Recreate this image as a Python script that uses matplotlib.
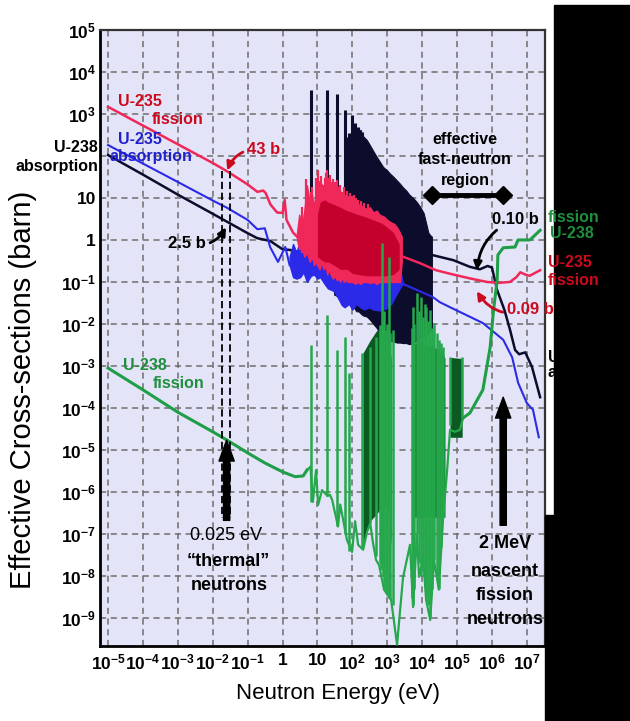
import matplotlib.pyplot as plt
from matplotlib.patches import Rectangle

plt.rcParams['font.family'] = ['Liberation Sans', 'DejaVu Sans']
plt.rcParams['mathtext.fontset'] = 'custom'
plt.rcParams['mathtext.rm'] = 'Liberation Sans'
plt.rcParams['mathtext.bf'] = 'Liberation Sans:bold'
plt.rcParams['mathtext.default'] = 'bf'

# Values. Energies in eV, cross-sections in barn.

# U-235 fission
u235f_low_E = [1e-5, 1e-4, 1e-3, 1e-2, 0.026, 0.1, 0.19, 0.28, 0.33, 0.45, 0.7, 1.0, 1.15, 1.3, 2.0, 2.6]
u235f_low_s = [1480, 530, 190, 68, 43, 21, 14, 15, 13, 7, 4.5, 4.4, 9, 3.0, 1.5, 1.2]
u235f_res_E = [2.6, 3.0, 3.6, 4.2, 5.0, 6.0, 7.0, 8.0, 9.0, 10, 11.5, 13, 15, 17, 19, 21, 24, 28, 32, 36, 40, 45,
               50, 57, 65, 75, 85, 100, 120, 140, 170, 200, 260, 320, 400, 500, 600, 800, 1000, 1300, 1600, 1900,
               2300, 2600]
u235f_res_hi = [1.5, 4, 2, 5, 20, 8, 12, 6, 15, 30, 15, 22, 10, 20, 30, 18, 24, 12, 18, 20, 10, 15,
                9, 12, 8, 11, 9, 8, 9, 7, 7, 6, 5.5, 6, 4.5, 5, 4, 3.6, 3, 2.6, 2.4, 2,
                1.5, 1.2]
u235f_res_lo = [1.0, 0.6, 0.7, 0.4, 0.5, 0.3, 0.4, 0.25, 0.3, 0.25, 0.2, 0.3, 0.2, 0.25, 0.15, 0.2, 0.15, 0.12,
                0.14, 0.11, 0.12, 0.1, 0.13, 0.1, 0.11, 0.1, 0.1, 0.1, 0.09, 0.1, 0.09, 0.1, 0.1, 0.095, 0.1,
                0.09, 0.1, 0.1, 0.1, 0.1, 0.1, 0.1, 0.1, 0.3]
u235f_spike_E = [3.6, 4.8, 6.4, 7.1, 8.8, 10.2, 11.7, 12.4, 14, 16.1, 18.1, 19.3, 21.1, 23.4, 25.6, 27.8, 32,
                 35.2, 39.4, 44.6, 49.4, 56.5, 63, 71, 83, 95, 110, 128, 150, 180, 220, 280]
u235f_spike_top = [6, 28, 14, 18, 30, 47, 25, 34, 20, 30, 40, 47, 30, 36, 22, 28, 24, 27, 18, 20, 14, 18, 12,
                   15, 13, 11, 12, 10, 9, 8.5, 7.5, 7]
u235f_core_E = [10, 12, 16, 20, 30, 45, 70, 100, 150, 250, 400, 700, 1000, 1500, 2200]
u235f_core_hi = [4, 8, 9, 8, 7, 6, 5, 4.5, 4, 3.5, 3, 2.5, 2, 1.5, 0.8]
u235f_core_lo = [0.4, 0.35, 0.3, 0.3, 0.25, 0.2, 0.2, 0.16, 0.15, 0.14, 0.14, 0.14, 0.14, 0.15, 0.2]
u235f_fast_E = [2.8e3, 8.7e3, 2.5e4, 7.8e4, 2.5e5, 7.2e5, 1.5e6, 3.3e6, 5e6, 6.5e6, 9e6, 1.2e7, 2.4e7]
u235f_fast_s = [0.40, 0.28, 0.19, 0.15, 0.12, 0.10, 0.095, 0.10, 0.13, 0.17, 0.15, 0.14, 0.19]

# U-235 absorption
u235a_low_E = [1e-5, 1e-4, 1e-3, 1e-2, 0.026, 0.1, 0.19, 0.31, 0.44, 0.74, 1.0, 1.2, 1.6]
u235a_low_s = [182, 66, 24, 8.7, 5.8, 3.0, 1.8, 1.9, 0.68, 0.3, 0.5, 0.68, 0.25]
u235a_res_E = [1.6, 2, 2.5, 3.2, 4, 5, 6.5, 8, 10, 12, 16, 20, 25, 30, 40, 50, 60, 80, 100, 130, 170, 220,
               300, 400, 600, 900, 1300, 1800, 2500, 2800]
u235a_res_hi = [0.4, 0.8, 0.5, 1.0, 0.5, 0.9, 2, 0.6, 1.2, 0.7, 1.5, 1.0, 1.2, 0.8, 1.0, 0.7, 0.8, 0.6, 0.7,
                0.5, 0.5, 0.45, 0.4, 0.35, 0.3, 0.3, 0.25, 0.2, 0.15, 0.09]
u235a_res_lo = [0.25, 0.13, 0.12, 0.13, 0.17, 0.1, 0.14, 0.15, 0.12, 0.13, 0.09, 0.07, 0.065, 0.06, 0.04,
                0.028, 0.025, 0.03, 0.022, 0.03, 0.025, 0.022, 0.025, 0.022, 0.021, 0.023, 0.03, 0.05, 0.08, 0.09]
u235a_fast_E = [2.8e3, 2e4, 3.2e4, 6.3e4, 5.5e5, 2.1e6, 3.8e6, 5.6e6, 1e7, 1.5e7, 2.2e7]
u235a_fast_s = [0.09, 0.044, 0.033, 0.025, 0.0105, 0.0042, 0.0016, 4e-4, 1.3e-4, 9e-5, 2e-5]

# U-238 absorption
u238a_low_E = [1e-5, 1e-4, 1e-3, 1e-2, 0.026, 0.1, 0.19, 0.44, 1.0, 1.6, 3.2, 5.0, 6.0, 10, 20, 30]
u238a_low_s = [105, 36, 12, 4.2, 2.7, 1.45, 1.1, 0.95, 0.6, 0.58, 0.5, 0.35, 0.3, 0.3, 0.2, 0.1]
u238a_spike_E = [6.6, 18.6, 36.3, 61.7, 70, 81, 98, 120, 145, 166, 190]
u238a_spike_top = [3700, 3700, 3000, 1250, 280, 350, 950, 610, 500, 420, 380]
u238a_spike_bot = [0.3, 0.2, 0.1, 0.05, 0.05, 0.05, 0.05, 0.04, 0.03, 0.03, 0.03]
u238a_res_E = [30, 40, 50, 60, 75, 90, 110, 130, 150, 170, 200, 260, 320, 400, 500, 620, 760, 1000, 1200,
               1500, 1900, 2300, 2800, 3500, 4300, 5500, 7000, 8700, 11000, 13000, 15000, 17000, 19000]
u238a_res_hi = [3, 8, 5, 20, 150, 60, 200, 150, 300, 420, 300, 240, 180, 130, 95, 72, 55, 45, 38,
                32, 26, 22, 18, 15, 12, 10, 8, 6.2, 4.4, 2.5, 1.5, 1.3, 1.2]
u238a_res_lo = [0.05, 0.045, 0.04, 0.035, 0.03, 0.03, 0.025, 0.02, 0.02, 0.018, 0.016, 0.015, 0.0126, 0.01,
                0.008, 0.006, 0.005, 0.004, 0.004, 0.0038, 0.0036, 0.0036, 0.0035, 0.0035, 0.0033, 0.0035,
                0.004, 0.0045, 0.005, 0.0055, 0.006, 0.0068, 0.0072]
u238a_fast_E = [1.9e4, 7.8e4, 2.3e5, 4.5e5, 7.5e5, 1e6, 1.4e6, 2.3e6, 3.3e6, 4.6e6, 6e6, 9e6, 1.4e7, 2.4e7]
u238a_fast_s = [0.44, 0.33, 0.23, 0.2, 0.24, 0.22, 0.065, 0.021, 0.0072, 0.0024, 0.0019, 0.0021, 9.5e-4, 1.8e-4]

# U-238 fission
u238f_low_E = [1e-5, 1e-4, 1e-3, 1e-2, 0.026, 0.1, 0.31, 1.0, 2.3, 3.9, 5.0]
u238f_low_s = [8.9e-4, 2.7e-4, 7.9e-5, 2.7e-5, 1.7e-5, 8.5e-6, 4.9e-6, 3.0e-6, 2.3e-6, 2.4e-6, 3.3e-6]
u238f_base_E = [5.0, 6.3, 7.4, 9.1, 10.5, 13.5, 19.5, 22.9, 26.3, 38.9, 45, 70, 98, 120, 146, 204, 263, 324,
                392, 478, 586, 810, 1290, 1910, 2820, 4490, 5500, 7080, 8140, 10700, 13000, 17000, 21900,
                30000, 40000, 52000, 63000, 87000, 120000, 150000]
u238f_base_s = [3.3e-6, 4e-6, 5.8e-7, 3.3e-6, 4.9e-7, 1.1e-6, 8e-7, 8.5e-7, 6.5e-7, 1.5e-7, 5e-7, 7.2e-8,
                3.7e-8, 2e-7, 5.5e-8, 4.2e-8, 1.1e-7, 1.8e-7, 6e-8, 2.4e-8, 1.8e-8, 4.7e-9, 2.7e-9, 2.3e-10,
                8.9e-9, 5.5e-8, 1.8e-9, 1e-7, 9.5e-9, 2.5e-8, 2.7e-9, 8.9e-10, 2.4e-8, 4.7e-9, 2.5e-7,
                3.3e-6, 3e-5, 2.7e-5, 3e-5, 5.8e-5]
u238f_spike_E = [6.6, 18.6, 36.3, 61.7, 80, 191, 324, 478, 600, 660, 708, 750, 810, 900, 1000, 1120, 1200,
                 1480, 5200, 5500, 6000, 7080, 8000, 9300, 10500, 12000, 13000, 15000, 17000, 19000, 22000,
                 26000, 30000, 35000, 40000, 63000, 138000]
u238f_spike_top = [3.2e-3, 0.016, 2.4e-3, 4.9e-3, 6.8e-4, 2.0e-3, 2.8e-3, 4.9e-3, 0.0095, 6e-3, 0.85, 8e-3,
                   0.02, 7e-3, 0.01, 0.40, 6e-3, 7.2e-3, 8e-3, 0.025, 0.01, 0.055, 0.02, 0.044, 0.015, 0.03,
                   0.025, 0.012, 0.021, 0.008, 0.0105, 6e-3, 4.2e-3, 3.5e-3, 2.8e-3, 1.6e-3, 1.6e-3]
u238f_spike_bot = [5.8e-7, 8e-7, 1.5e-7, 1e-7, 4e-8, 5e-8, 1.8e-7, 3e-8, 2e-8, 1.5e-8, 1.4e-8, 1e-8, 5e-9,
                   4e-9, 3.5e-9, 3e-9, 2.8e-9, 2e-9, 3e-9, 2e-9, 5e-9, 1e-7, 2e-8, 1e-8, 2e-8, 6e-9, 3e-9,
                   2e-9, 1e-9, 5e-9, 2.4e-8, 1e-8, 5e-9, 5e-8, 2.5e-7, 4e-5, 5.8e-5]
u238f_band1_E = [200, 320, 500, 800, 1100, 1300]
u238f_band1_hi = [2e-3, 4e-3, 7e-3, 7e-3, 4e-3, 1.5e-3]
u238f_band1_lo = [5e-8, 2e-7, 3e-7, 5e-7, 3e-7, 5e-8]
u238f_band2_E = [5000, 8000, 12000, 18000, 27000, 40000, 45000]
u238f_band2_hi = [3e-3, 4e-3, 3.2e-3, 3e-3, 2.5e-3, 2e-3, 1.5e-3]
u238f_band2_lo = [2.5e-7, 2.5e-7, 2.5e-7, 2.5e-7, 2.5e-7, 2.5e-7, 2.5e-7]
u238f_band3_E = [6.3e4, 1.4e5]
u238f_band3_hi = [1.6e-3, 1.5e-3]
u238f_band3_lo = [2e-5, 2e-5]
u238f_fast_E = [1.5e5, 2.34e5, 5.5e5, 8.9e5, 1.1e6, 1.41e6, 1.48e6, 2.1e6, 4.6e6, 5.6e6, 1.23e7, 2.4e7]
u238f_fast_s = [5.8e-5, 7.6e-5, 2.7e-4, 2.8e-3, 0.02, 0.11, 0.44, 0.65, 0.68, 1.0, 1.0, 1.7]

# marked points
thermal_E = 0.025
thermal_dash_E = [0.0186, 0.0316]
fast_E = 2.1e6
region_E = [1.9e4, 2.1e6]

x_ticks = [1e-5, 1e-4, 1e-3, 1e-2, 1e-1, 1, 10, 1e2, 1e3, 1e4, 1e5, 1e6, 1e7]
x_labels = ['$10^{-5}$', '$10^{-4}$', '$10^{-3}$', '$10^{-2}$', '$10^{-1}$', '1', '10',
            '$10^{2}$', '$10^{3}$', '$10^{4}$', '$10^{5}$', '$10^{6}$', '$10^{7}$']
y_ticks = [1e5, 1e4, 1e3, 1e2, 10, 1, 1e-1, 1e-2, 1e-3, 1e-4, 1e-5, 1e-6, 1e-7, 1e-8, 1e-9]
y_labels = ['$10^{5}$', '$10^{4}$', '$10^{3}$', '', '10', '1', '$10^{-1}$', '$10^{-2}$', '$10^{-3}$',
            '$10^{-4}$', '$10^{-5}$', '$10^{-6}$', '$10^{-7}$', '$10^{-8}$', '$10^{-9}$']

RED = '#f0285a'
RED_DARK = '#c4002c'
RED_TXT = '#cc0a1e'
BLUE = '#2a2ae8'
NAVY = '#0c0c2c'
GREEN = '#1e9e46'
GREEN_MID = '#25a84b'
GREEN_DK = '#0a5a22'
GREEN_TXT = '#1f8f3e'


def fpx(x, y):
    # position given in pixels of the 630x721 picture, from top-left
    return x / 630, 1 - y / 721


fig = plt.figure(figsize=(6.3, 7.21), dpi=100)
ax = fig.add_axes([100 / 630, 1 - 646 / 721, 445 / 630, 616 / 721])
ax.set_facecolor('#e4e4f8')
ax.set_xscale('log')
ax.set_yscale('log')
ax.set_xlim(10 ** -5.23, 10 ** 7.52)
ax.set_ylim(10 ** -9.67, 10 ** 5)

# U-238 absorption (black)
ax.fill_between(u238a_res_E, u238a_res_lo, u238a_res_hi, color=NAVY, lw=0.8, zorder=2)
ax.vlines(u238a_spike_E, u238a_spike_bot, u238a_spike_top, color=NAVY, lw=2.2, zorder=2)
ax.plot(u238a_low_E, u238a_low_s, color=NAVY, lw=1.8, zorder=2.2)
ax.plot(u238a_fast_E, u238a_fast_s, color=NAVY, lw=1.8, zorder=2.2)

# U-235 absorption (blue)
ax.fill_between(u235a_res_E, u235a_res_lo, u235a_res_hi, color=BLUE, lw=1, zorder=3)
ax.plot(u235a_low_E, u235a_low_s, color=BLUE, lw=1.5, zorder=3)
ax.plot(u235a_fast_E, u235a_fast_s, color=BLUE, lw=1.5, zorder=3)

# U-235 fission (red)
ax.fill_between(u235f_res_E, u235f_res_lo, u235f_res_hi, color=RED, lw=1, zorder=4)
ax.vlines(u235f_spike_E, 0.5, u235f_spike_top, color=RED, lw=1.6, zorder=4)
ax.fill_between(u235f_core_E, u235f_core_lo, u235f_core_hi, color=RED_DARK, lw=0, zorder=4.1)
ax.plot(u235f_low_E, u235f_low_s, color=RED, lw=1.8, zorder=4)
ax.plot(u235f_fast_E, u235f_fast_s, color=RED, lw=1.8, zorder=4)

# U-238 fission (green)
for bE, bl, bh in [(u238f_band1_E, u238f_band1_lo, u238f_band1_hi),
                   (u238f_band2_E, u238f_band2_lo, u238f_band2_hi),
                   (u238f_band3_E, u238f_band3_lo, u238f_band3_hi)]:
    ax.fill_between(bE, bl, bh, color=GREEN_DK, lw=0, zorder=5)
ax.plot(u238f_base_E, u238f_base_s, color=GREEN_MID, lw=1.6, zorder=5.1)
ax.vlines(u238f_spike_E, u238f_spike_bot, u238f_spike_top, color=GREEN_MID, lw=1.8, zorder=5.1)
ax.plot(u238f_low_E, u238f_low_s, color=GREEN, lw=2.2, zorder=5.2)
ax.plot(u238f_fast_E, u238f_fast_s, color=GREEN, lw=2.2, zorder=5.2)

# grid, ticks, frame
ax.grid(True, which='major', ls=(0, (4, 3)), color='#6d6d6d', lw=1.1, zorder=1)
ax.set_axisbelow(True)
ax.set_xticks(x_ticks)
ax.set_xticklabels(x_labels)
ax.set_yticks(y_ticks)
ax.set_yticklabels(y_labels)
ax.minorticks_off()
ax.tick_params(length=0, labelsize=12.5, pad=5)
ax.tick_params(axis='y', pad=3)
for lbl in ax.get_xticklabels() + ax.get_yticklabels():
    lbl.set_fontweight('bold')
for side in ['left', 'bottom']:
    ax.spines[side].set_linewidth(2)
    ax.spines[side].set_color('black')
for side in ['top', 'right']:
    ax.spines[side].set_linewidth(1.6)
    ax.spines[side].set_color('#333333')

# thermal marker
for e in thermal_dash_E:
    ax.plot([e, e], [45, 2.4e-7], color='black', lw=1.3, ls=(0, (4, 2)), zorder=6)
big_arrow = dict(facecolor='black', edgecolor='black', width=4.5, headwidth=11, headlength=15, shrink=0)
ax.annotate('', xy=(thermal_E, 1.7e-5), xytext=(thermal_E, 2.1e-7), arrowprops=big_arrow, zorder=8)
ax.annotate('', xy=(fast_E, 1.8e-4), xytext=(fast_E, 1.6e-7), arrowprops=big_arrow, zorder=8)

# fast region bar
ax.plot(region_E, [11.7, 11.7], color='black', lw=3.5, marker='D', ms=9, zorder=7)

# curved pointers
def pointer(txt, xy, pos, color, rad, ha='left'):
    ax.annotate(txt, xy=xy, xycoords='data', xytext=fpx(*pos), textcoords='figure fraction',
                color=color, fontsize=12, fontweight='bold', ha=ha, va='center', zorder=8,
                arrowprops=dict(arrowstyle='-|>', color=color, lw=2, mutation_scale=12,
                                connectionstyle=f'arc3,rad={rad}', shrinkA=1, shrinkB=0))


pointer('43 b', (0.026, 45), (247, 150), RED_TXT, 0.4)
pointer('2.5 b', (0.024, 2.0), (206, 243), 'black', 0.4, ha='right')
pointer('0.10 b', (3.7e5, 0.19), (492, 219), 'black', 0.3)

txt_kw = dict(fontweight='bold', va='center')
fig.text(*fpx(118, 102), 'U-235', color=RED_TXT, fontsize=11.5, **txt_kw)
fig.text(*fpx(152, 120), 'fission', color=RED_TXT, fontsize=11.5, **txt_kw)
fig.text(*fpx(118, 140), 'U-235', color='#2020cc', fontsize=11.5, **txt_kw)
fig.text(*fpx(110, 157), 'absorption', color='#2020cc', fontsize=11.5, **txt_kw)
fig.text(*fpx(98, 148), 'U-238', color='black', fontsize=11.5, ha='right', **txt_kw)
fig.text(*fpx(98, 166), 'absorption', color='black', fontsize=11.5, ha='right', **txt_kw)
fig.text(*fpx(123, 365), 'U-238', color=GREEN_TXT, fontsize=11.5, **txt_kw)
fig.text(*fpx(153, 383), 'fission', color=GREEN_TXT, fontsize=11.5, **txt_kw)

fig.text(*fpx(465, 139), 'effective', color='black', fontsize=11.5, ha='center', **txt_kw)
fig.text(*fpx(465, 160), 'fast-neutron', color='black', fontsize=11.5, ha='center', **txt_kw)
fig.text(*fpx(465, 180), 'region', color='black', fontsize=11.5, ha='center', **txt_kw)

fig.text(*fpx(226, 535), '0.025 eV', color='black', fontsize=13, ha='center', va='center')
fig.text(*fpx(228, 561), '\u201cthermal\u201d', color='black', fontsize=13, ha='center', **txt_kw)
fig.text(*fpx(229, 585), 'neutrons', color='black', fontsize=13, ha='center', **txt_kw)
fig.text(*fpx(505, 544), '2 MeV', color='black', fontsize=13, ha='center', **txt_kw)
fig.text(*fpx(505, 572), 'nascent', color='black', fontsize=13, ha='center', **txt_kw)
fig.text(*fpx(505, 596), 'fission', color='black', fontsize=13, ha='center', **txt_kw)
fig.text(*fpx(505, 619), 'neutrons', color='black', fontsize=13, ha='center', **txt_kw)

# axis titles
fig.text(*fpx(23, 390), 'Effective Cross-sections (barn)', rotation=90, fontsize=21,
         ha='center', va='center')
fig.text(*fpx(338, 693), 'Neutron Energy (eV)', fontsize=16, ha='center', va='center')

# black block on the right of the picture, with labels partly hidden behind it
fig.text(*fpx(548, 358), 'U-238', color='black', fontsize=11.5, zorder=4, **txt_kw)
fig.text(*fpx(548, 373), 'absorption', color='black', fontsize=11.5, zorder=4, **txt_kw)
fig.add_artist(Rectangle(fpx(554, 721), 76 / 630, 716 / 721, transform=fig.transFigure,
                         color='black', zorder=5))
fig.add_artist(Rectangle(fpx(545, 721), 10 / 630, 206 / 721, transform=fig.transFigure,
                         color='black', zorder=5))

fig.text(*fpx(548, 218), 'fission', color=GREEN_TXT, fontsize=11.5, zorder=9, **txt_kw)
fig.text(*fpx(550, 233), 'U-238', color=GREEN_TXT, fontsize=11.5, zorder=9, **txt_kw)
fig.text(*fpx(548, 262), 'U-235', color=RED_TXT, fontsize=11.5, zorder=9, **txt_kw)
fig.text(*fpx(548, 280), 'fission', color=RED_TXT, fontsize=11.5, zorder=9, **txt_kw)
ax.annotate('0.09 b', xy=(3.7e5, 0.06), xycoords='data', xytext=fpx(507, 310),
            textcoords='figure fraction', color=RED_TXT, fontsize=12, fontweight='bold',
            ha='left', va='center', zorder=9,
            arrowprops=dict(arrowstyle='-|>', color=RED_TXT, lw=2, mutation_scale=12,
                            connectionstyle='arc3,rad=-0.4', shrinkA=1, shrinkB=0))

fig.savefig('out.png', dpi=100)
